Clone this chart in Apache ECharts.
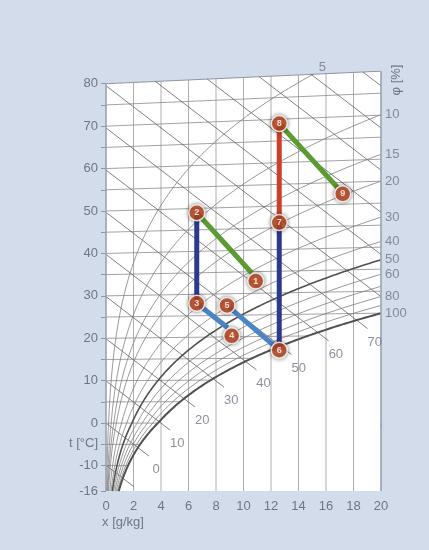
<!DOCTYPE html>
<html>
<head>
<meta charset="utf-8">
<script src="https://cdn.jsdelivr.net/npm/echarts@6/dist/echarts.min.js"></script>
<style>
  html, body { margin: 0; padding: 0; background: #d2dcea; }
  #chart { width: 429px; height: 550px; }
</style>
</head>
<body>
<div id="chart"></div>
<script>
// axes / chart lines
const xTicks = [0, 2, 4, 6, 8, 10, 12, 14, 16, 18, 20];
const tLabels = [-16, -10, 0, 10, 20, 30, 40, 50, 60, 70, 80];
const tTicks = [-16, -10, -5, 0, 5, 10, 15, 20, 25, 30, 35, 40, 45, 50, 55, 60, 65, 70, 75, 80];
const isotherms = [-10, -5, 0, 5, 10, 15, 20, 25, 30, 35, 40, 45, 50, 55, 60, 65, 70, 75];
const isenthalps = [-10, 0, 10, 20, 30, 40, 50, 60, 70, 80, 90, 100, 110, 120, 130];
const enthalpyLabels = [0, 10, 20, 30, 40, 50, 60, 70];
const rhCurves = [5, 10, 15, 20, 30, 40, 50, 60, 70, 80, 90, 100];
const rhLabels = [5, 10, 15, 20, 30, 40, 50, 60, 80, 100];
const tTop = 80, tBottom = -16, xMax = 20;

// process states (x in g/kg, t in °C)
const stateNo = ['1', '2', '3', '4', '5', '6', '7', '8', '9'];
const stateX = [10.6, 6.6, 6.6, 8.85, 8.8, 12.6, 12.6, 12.6, 16.85];
const stateT = [34.7, 49.0, 27.9, 22.1, 27.3, 16.8, 46.2, 69.0, 53.8];
const segFrom = [1, 2, 3, 5, 6, 7, 8];
const segTo = [2, 3, 4, 6, 7, 8, 9];
const segColor = ['#5c9b32', '#2c3a8e', '#4a85c6', '#4a85c6', '#2c3a8e', '#cf3f28', '#5c9b32'];
const markerShift = [[4, 8], [0, 0], [0, 0], [4, 8], [0, 0], [0, 0], [0, 0], [0, 0], [5, 6]];

// moist air (p = 101.325 kPa)
const P = 101.325;
function psat(t) {
  return t < 0 ? 0.6112 * Math.exp(22.46 * t / (272.62 + t))
               : 0.6112 * Math.exp(17.62 * t / (243.12 + t));
}
function xOf(t, phi) { const pv = phi * psat(t); return 622 * pv / (P - pv); }
function hOf(x, t) { return 1.006 * t + x * (2.501 + 0.00186 * t); }
// chart ordinate: Mollier skew, 0 °C isotherm horizontal
function skew(x, t) { return t * (1 + 0.00186 * x / 1.006); }
function hLine(h, x) { return (h - 2.501 * x) / 1.006; }
function satX(h) {
  let a = -16, b = 60;
  for (let i = 0; i < 60; i++) {
    const m = (a + b) / 2;
    if (hOf(xOf(m, 1), m) < h) a = m; else b = m;
  }
  return xOf((a + b) / 2, 1);
}

const grey = '#6e7784';
const font = '"Liberation Sans Narrow", "Arial Narrow", "Liberation Sans", sans-serif';
const series = [];

// white plot area under the 80 °C isotherm
series.push({
  type: 'line', silent: true, symbol: 'none', z: 1,
  data: xTicks.map(x => [x, skew(x, tTop)]),
  lineStyle: { color: '#8f96a2', width: 1 },
  areaStyle: { color: '#ffffff', opacity: 1, origin: 'start' }
});

// constant x lines
xTicks.forEach(x => {
  const edge = x === 0 || x === xMax;
  series.push({
    type: 'line', silent: true, symbol: 'none', z: edge ? 4 : 2,
    data: [[x, tBottom], [x, skew(x, tTop)]],
    lineStyle: { color: edge ? '#9aa3b1' : '#999999', width: edge ? 1.6 : 0.8 }
  });
});

// isotherms, stopped at saturation
isotherms.forEach(t => {
  const xe = Math.min(xMax, xOf(t, 1));
  series.push({
    type: 'line', silent: true, symbol: 'none', z: 2,
    data: [[0, t], [xe, skew(xe, t)]],
    lineStyle: { color: '#8c8c8c', width: 0.8 }
  });
});

// isenthalps
const hLabelData = [];
isenthalps.forEach(h => {
  const hCorner = hOf(0, tTop);
  const x0 = h > hCorner ? (h - hCorner) / (2.501 + 0.00186 * tTop) : 0;
  const xs = satX(h);
  const x1 = xs > xMax ? xMax : Math.min(xMax, xs + 0.8);
  series.push({
    type: 'line', silent: true, symbol: 'none', z: 3,
    data: [[x0, hLine(h, x0)], [x1, hLine(h, x1)]],
    lineStyle: { color: '#626262', width: 0.8 }
  });
  if (enthalpyLabels.includes(h)) {
    const xl = xs + 1.25;
    hLabelData.push({ name: String(h), value: [xl, hLine(h, xl)] });
  }
});

// relative humidity curves
const rhLabelData = [];
rhCurves.forEach(phi => {
  const pts = [];
  let prev = null;
  for (let t = tBottom; t <= tTop + 1e-9; t += 0.25) {
    const x = xOf(t, phi / 100);
    if (x > xMax) {
      const f = (xMax - prev[0]) / (x - prev[0]);
      const tc = prev[1] + f * (t - prev[1]);
      pts.push([xMax, skew(xMax, tc)]);
      break;
    }
    pts.push([x, skew(x, t)]);
    prev = [x, t];
  }
  const bold = phi === 50 || phi === 100;
  series.push({
    type: 'line', silent: true, symbol: 'none', z: 3,
    data: pts,
    lineStyle: { color: bold ? '#505050' : '#7c7c7c', width: phi === 100 ? 2 : (bold ? 1.6 : 0.8) }
  });
  if (rhLabels.includes(phi)) {
    const end = pts[pts.length - 1];
    rhLabelData.push({
      name: String(phi), value: end,
      label: end[0] < xMax ? { position: 'top', offset: [9, 5] } : { position: 'right', distance: 4 }
    });
  }
});

series.push({
  type: 'scatter', silent: true, symbolSize: 0, z: 7, clip: false,
  data: hLabelData,
  label: { show: true, position: 'inside', offset: [1, 9], formatter: p => p.name, color: grey, fontSize: 13, fontFamily: font }
});
series.push({
  type: 'scatter', silent: true, symbolSize: 0, z: 7, clip: false,
  data: rhLabelData,
  label: { show: true, formatter: p => p.name, color: grey, fontSize: 13, fontFamily: font }
});

// processes
segFrom.forEach((a, i) => {
  const b = segTo[i];
  series.push({
    type: 'line', silent: true, symbol: 'none', z: 8,
    data: [[stateX[a - 1], skew(stateX[a - 1], stateT[a - 1])], [stateX[b - 1], skew(stateX[b - 1], stateT[b - 1])]],
    lineStyle: { color: segColor[i], width: 5, cap: 'butt' }
  });
});
series.push({
  type: 'scatter', silent: true, z: 9,
  symbolSize: 16,
  data: stateNo.map((n, i) => ({
    name: n, value: [stateX[i], skew(stateX[i], stateT[i])], symbolOffset: markerShift[i]
  })),
  itemStyle: { color: '#c94a1f', borderColor: '#ffffff', borderWidth: 1.5, shadowBlur: 4, shadowColor: 'rgba(0,0,0,0.55)' },
  label: { show: true, position: 'inside', formatter: p => p.name, color: '#ffffff', fontSize: 9, fontWeight: 'bold', fontFamily: 'Liberation Sans, sans-serif' }
});

const chart = echarts.init(document.getElementById('chart'));
chart.setOption({
  backgroundColor: '#d2dcea',
  animation: false,
  grid: { left: 106, right: 48, top: 71, bottom: 59 },
  xAxis: {
    type: 'value', min: 0, max: xMax, interval: 2,
    axisLine: { lineStyle: { color: '#9aa3b1', width: 1.6 } },
    axisTick: { length: 5, lineStyle: { color: '#9a9a9a' } },
    axisLabel: { color: grey, fontSize: 13, fontFamily: font, margin: 9 },
    splitLine: { show: false }
  },
  yAxis: {
    type: 'value', min: tBottom, max: 83,
    axisLine: { show: false },
    axisTick: { show: true, length: 5, customValues: tTicks, lineStyle: { color: '#8f96a2' } },
    axisLabel: { customValues: tLabels, color: grey, fontSize: 13, fontFamily: font, margin: 8 },
    splitLine: { show: false }
  },
  graphic: [
    { type: 'text', x: 98, y: 443, style: { text: 't [°C]', fill: grey, font: '13px ' + font, textAlign: 'right', textVerticalAlign: 'middle' } },
    { type: 'text', x: 123, y: 522, style: { text: 'x [g/kg]', fill: grey, font: '13px ' + font, textAlign: 'center', textVerticalAlign: 'middle' } },
    { type: 'text', x: 192, y: 467, style: { text: 'h [kJ/kg]', fill: grey, font: '13px ' + font, textAlign: 'center', textVerticalAlign: 'middle' } },
    { type: 'text', x: 396, y: 80, rotation: Math.PI / 2, style: { text: 'φ [%]', fill: grey, font: '13px ' + font, textAlign: 'center', textVerticalAlign: 'middle' } }
  ],
  series: series
});
</script>
</body>
</html>
